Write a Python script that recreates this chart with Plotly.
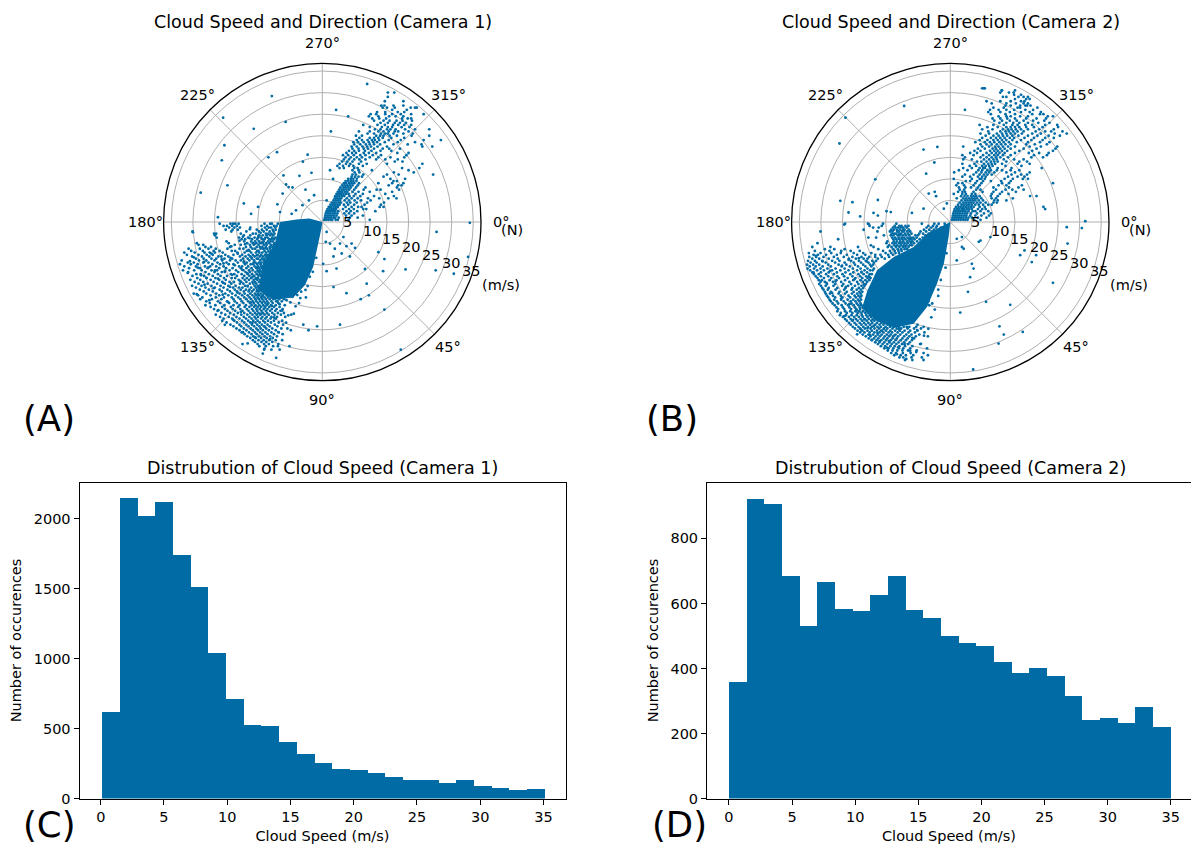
import numpy as np
import plotly.graph_objects as go

W, H = 1191, 846
PLOT_H = 838  # height left for paper coordinates once plotly has reserved its bottom margin
BLUE = "#006BA4"
FONT = "DejaVu Sans"

# ---------- histogram counts ----------
cam1_counts = [620, 2150, 2024, 2120, 1740, 1515, 1043, 716, 530, 525, 410, 320, 260, 215, 208,
               186, 158, 136, 136, 115, 134, 95, 76, 62, 74]
cam2_counts = [361, 924, 906, 685, 533, 669, 585, 578, 626, 685, 580, 558, 501, 480, 471,
               421, 389, 402, 377, 318, 242, 249, 233, 283, 222]
bin_width = 1.4
cam1_first_edge = 0.07
cam2_first_edge = 0.0
speed_ticks = [0, 5, 10, 15, 20, 25, 30, 35]

# ---------- solid (saturated) part of each cloud, outline: (west, south) m/s ----------
cam1_core = [(0, 0), (3, -0.8), (6, -0.6), (9.8, 0), (11, 5), (13.8, 9.7), (14.8, 15.8), (11.4, 18), (6.7, 17.5),
             (4, 14.6), (2.1, 10.4), (1.3, 6.6), (0.2, 1.5)]
cam2_core = [(0, 0), (5.4, 2.7), (8.5, 5.8), (13.1, 8.1), (17, 11.2), (19.2, 15.8), (20.5, 20), (17, 23), (13, 24.5),
             (8.5, 23.6), (5.4, 19.7), (3.1, 14.3), (1.5, 9.7), (0.4, 3.5)]

# ---------- stippled points: rows of south speed -> west speeds ----------
cam1_sw = {
0.4:[23.8,21.3,20.7,20.2,19.4,13.4,12.1,11.7,10.3],
0.9:[22.9,22.1,20.9,19.8,14.1,12.8,11.2,10.6],
1.3:[21.6,20.4,19.1,16.7,13.3,12.4,11.9,10.9],
1.8:[22.4,20.8,19.6,15.2,14,12.9,11.5,10.8],
2.2:[30.1,21.1,17.6,14.7,13.6,12.2,11.3],
2.7:[25.1,24.6,18.9,16.1,15.4,13.1,12.5,11.8,11.1],
3.1:[24.9,18.2,16.7,14.6,13.8,12.9,12.1,11.4],
3.6:[24.5,19.3,17.2,15.7,14.9,14.2,13.2,12.7,11.6,10.9],
4:[18.7,17.9,16.3,15.1,13.9,13.4,12.3,11.8,11.2],
4.5:[22.2,18.1,16.5,15.6,14.7,13.6,12.6,12,11.5],
4.9:[29.1,21.7,17.4,16.1,15.3,14.4,13.8,13,12.3,11.1],
5.3:[28.7,27.6,20.3,18.9,16.8,15.9,14.8,13.5,12.9,11.9,11.3],
5.8:[27.1,25.8,21.4,17.7,16.6,15.2,14.5,13.9,13.1,12.2,11.6],
6.2:[31,28.4,26.4,24.7,22,19.2,18.3,16.2,15.6,14.3,13.7,12.8,12.1],
6.7:[30.4,27.7,25.2,23.8,21,20.2,17.5,16.9,15.1,14.8,13.4,12.5,11.8],
7.1:[32,29.6,27.3,26.1,24.9,23.1,19.7,18,16.5,15.4,14.6,13.9,13,12.2],
7.6:[31.4,28.7,26.8,25.4,22.5,20.6,18.6,17.1,16.1,15,14.2,13.3,12.7],
8:[30.2,27.9,26.2,24.1,23.4,21.8,19.1,17.8,16.7,15.7,14.5,13.8,13.1],
8.5:[29.3,27.5,25.7,24.6,22.7,20.9,18.4,17.3,16.3,15.2,14.9,14,13.4],
8.9:[32.6,28.6,26.9,25,23.2,21.4,20.1,18.9,16.9,15.8,14.4,13.6],
9.4:[31.2,29.8,27.6,26.4,24.3,22.2,19.6,18.2,17.5,15.5,14.7,14.1,13.5],
9.8:[33,30.5,28.9,25.5,23.7,21.7,20.6,17.9,16.6,16,15.1,14.3],
10.3:[32,29.3,27.2,26,24.6,22.9,19.3,18.6,17.2,15.7,14.9,14.2,13.7],
10.7:[30.9,28.4,26.6,23.9,22.3,20.8,18.9,17.6,16.4,15.3,14.6,13.9],
11.2:[32.3,29.7,28,25.7,24.4,21.5,20,18.3,17,16.1,15,14.4],
11.6:[31.1,27.1,25,23.3,22.6,19.5,17.8,16.8,15.5,14.7,14.1],
12.1:[29.2,28.2,26.3,24.2,21.2,20.4,18.7,17.3,16.3,15.2,14.5],
12.5:[30.1,27.4,25.4,23.6,22.1,19.8,18.1,16.9,15.8,14.8,14.2],
13:[29,26.8,24.8,22.8,21,20.2,18.5,17.5,16.5,15.4,14.9],
13.4:[30.6,28.3,25.9,23.9,22.4,19.4,18,17,15.9,15.1,14.4],
13.9:[29.6,27.6,25.2,23.2,21.5,20.5,18.8,17.6,16.2,15.6,14.7],
14.3:[28.7,26.6,24.4,22.6,21.1,19.1,18.3,16.8,16,15.3],
14.8:[30.2,28,25.7,23.6,21.8,20.1,17.9,17.3,15.7,15,14.6],
15.2:[29.3,27.1,24.9,22.9,20.7,19.3,18.5,16.5,15.4,14.8,6.2],
15.7:[28.4,26.3,23.8,22,20.3,18.9,17.7,16.9,15.9,15.1,14.5,7.9],
16.1:[27.5,25.4,23.3,21.4,19.8,18.2,17.1,16.3,15.2,14.7,8.6,7.3],
16.6:[29.8,26.9,24.6,22.5,20.9,19.2,18,16.7,15.6,14.9,14.2,13.5,12.4],
17:[28.8,25.9,23.9,21.8,20.1,18.6,17.3,16.2,15.4,14.6,13.8,12.9,12,11.1,9.8,9],
17.5:[27.8,24.7,22.8,21,19.5,18.1,16.9,15.8,15,14.2,13.4,12.6,11.6,10.4,9.5,3.8],
17.9:[28.3,25.6,23.4,20.6,19,17.6,16.5,15.5,14.7,13.9,13.1,12.2,11.3,10,8.9],
18.4:[26.9,24.2,22.1,20.3,18.7,17.2,16.1,15.3,14.4,13.6,12.8,11.8,10.7,9.4],
18.8:[26.1,23.7,21.6,19.8,18.3,16.8,15.9,14.9,14,13.2,12.5,11.5,10.2,5.4],
19.3:[27.1,24.8,22.7,20.6,19.2,17.7,16.4,15.5,14.6,13.7,12.9,11.9,10.8,8.7],
19.7:[25.9,23.2,21.2,19.5,18,16.9,15.8,15,14.2,13.3,12.3,11.2,9.9],
20.2:[25.1,22.6,20.8,19,17.5,16.3,15.3,14.5,13.6,12.7,11.7,10.6,9.2],
20.6:[24.3,22,20.2,18.5,17.1,16,15.1,14.1,13.1,12.1,10.9,9.7],
21.1:[23.4,21.4,19.6,18.1,16.7,15.6,14.8,13.8,12.8,11.6,10.3,8.9],
21.5:[24.7,22.5,20.5,18.8,17.4,16.2,15.2,14.4,13.4,12.4,11.1,9.6,7.2],
22:[23.7,21.7,19.9,18.2,16.9,15.7,14.9,13.9,12.9,11.8,10.5,8.6],
22.4:[22.9,20.9,19.2,17.7,16.4,15.4,14.2,13.2,12,10.8],
22.9:[23.2,20.4,18.6,17.2,16,15,13.7,12.6,11.2,9.3],
23.3:[22.2,19.8,18.1,16.7,15.5,14.5,13.3,11.9,10.1],
23.8:[21.3,19.2,17.6,16.3,15.1,14,12.7,11,9.1,4.4],
24.2:[20.6,18.8,17.1,15.8,14.6,13.5,12.2,10.4],
24.7:[19.9,18.2,16.6,15.3,14.3,13,11.6,9.5,8.1],
25.1:[19.2,17.6,16.1,14.9,13.8,12.4,10.8,7.3,3.2],
25.6:[18.7,17,15.6,14.4,13.2,11.8,10.1],
26:[18,16.4,15.2,13.9,12.7,11.2,9.2],
26.5:[17.4,16,14.7,13.4,12.1,10.5],
26.9:[16.7,15.4,14.2,12.9,11.5],
27.4:[16.1,14.8,13.6,12.3,10.8,9.3],
27.8:[15.6,14.1,13,11.6],
28.3:[18.5,15,13.5,12.4,10.2],
28.8:[14.6,13.1,11.4,10.3,7.6],
29.6:[13.5,11.8,9.9],
30.5:[13.8],
31.5:[10.7],
}
cam1_ne = {
0.5:[0.4,0.9,1.4,1.9,2.3,3.1,3.6,6.1,11],
1:[0.6,1,1.5,2,2.6,3,3.8,6.4,8.2],
1.5:[0.7,1.2,1.7,2.2,2.7,3.3,5.5,6.8,9.4],
2:[0.8,1.3,1.8,2.4,2.9,3.5,5.1,6.2,7.4],
2.5:[1,1.5,2,2.5,3,3.7,5.6,6.6,8.1,12.3],
3:[1.2,1.7,2.2,2.7,3.2,4.8,6.2,7.3,9.5,10.2],
3.5:[1.5,2,2.6,3.1,3.6,5.4,6.8,8.3,9.1,13.3,14.2],
4:[1.9,2.4,2.9,3.5,4,5,6,7.4,9.8,13.6],
4.5:[2.2,2.7,3.2,3.8,4.3,5.7,6.5,8,10.4,14.3],
5:[1,2.6,3.1,3.6,4.1,5.2,6.2,7.5,9,11.2],
5.5:[2.9,3.4,3.9,4.4,5.7,6.8,8.2,10.6,13.2,15.3,17.2],
6:[3,3.5,4,4.6,5.1,6.3,7.3,8.8,12,16.6],
6.5:[3.3,3.8,4.3,4.9,5.5,6.1,7.7,9.4,14.6],
7:[3.6,4.1,4.6,5.2,5.8,7,8.4,11,16.2],
7.5:[3.9,4.5,5,5.6,6.2,7.4,9.6,12.6,13.5,17.8],
8:[4.2,4.9,5.4,6,6.6,7.8,10,17.3],
8.5:[4.6,5.2,5.8,6.4,7,8.2,15.4,17.6,18.4],
9:[5,5.5,6.2,6.8,7.4,8.5,13,16.2,18.8],
9.5:[5.4,6,6.6,7.2,7.9,16.5,17.3],
10:[2.5,6,6.6,7.2,8,15.8,19.2],
10.5:[6.8,7.6,8.4,9.2,14.2],
11:[7,7.8,9.5,15,17.7,25.7],
11.5:[7.5,8.6,16.6,21.2],
12:[1.8,7,8.4,11.5,20],
12.5:[4,5,7.4,8.2,18.5,22.5],
13:[3.5,4.8,6.2,7.2,9.4],
13.5:[4,5.5,6.5,8.5,10.3,15,23.2],
14:[4.6,5.8,7,9,16.8,18.6],
14.5:[5,6.2,7.4,8.6,10,12.5,14.6,17.5],
15:[5.4,6.6,8,9.2,11,13,15.8,19],
15.5:[4.8,6,7.3,8.8,10,11.7,13.6,19.5],
16:[5.6,6.9,7.8,9.6,10.8,12.5,17.4,20],
16.5:[6.2,7.4,8.5,9.9,11.4,13.5,16],
17:[7,8.4,9.6,10.6,12,14,15.5,18],
17.5:[6.8,8,9.3,10.4,11.3,12.8,15,23.2,25.5],
18:[7.4,8.8,10.1,11,12,13.4,16.5,19.8,23],
18.5:[7.2,8.3,9.6,10.8,11.8,12.7,14.5,17.5,21.5],
19:[8,9.2,10.5,11.5,12.2,13.2,15.4,18.2,23.5,27.5],
19.5:[8.6,11,12,13,14,16,19],
20:[7.8,9.2,12.5,13.4,14.2,15.6,17.3,20.7,24.8],
20.5:[10.5,12,13.6,14.6,15.2,16.5,18.8,21],
21:[2,8.5,11,13,14.2,15.4,16.8,17.6,20],
21.5:[12.2,13.5,15,15.8,17,19.2,21.5,24.8],
22:[11,13.8,15.2,16.2,18.4,20.2],
22.5:[9.5,12.8,14.5,16.4,17.6,19,20.6],
23:[13.5,15.2,16.8,18,19.4],
23.5:[12,14.2,15.6,17.2,18.6,20.8],
24:[11.6,13.2,14.8,18.5,19.8,20.6],
24.5:[6,10.8,13,15.5,17,18.8],
25:[11.2,12.5,14.6,16.2,18.2,20.6,23.5],
25.5:[12.7,14.6,17.5,19],
26:[3.2,16.2,19.6],
26.5:[14,15,16.8,20.5,21.5,21.9],
27:[13.7,14.4,16.5,18.8],
28:[14.5,18.8],
29:[15.2],
30:[15.2,16.7],
32:[10.4],
}
# scattered points elsewhere: (east, south) m/s
cam1_other = [(-11.7,-29.2),(-8.5,-23.2),(-15.9,-21.6),(-23,-24.2),(-22.7,-17.8),(-23.3,-14.3),(-28.2,-6.8),(-22,-8.5),
(-24.2,-1.1),(-10.5,-16.2),(-12.5,-15),(-3.4,-15.6),(-4.5,-14),(-2.5,-11.4),(-9,-10.8),(-5.3,-10.7),(-7.8,-8.1),(-8.4,-8.7),
(-6.9,-8),(-3.9,-7.5),(-9.2,-6.6),(-1.9,-6.2),(-18.2,-4.3),(-14.9,-3.5),(-16.5,-1.9),(-10.4,-4.1),(-9.8,-2.3),(-4.6,-3.9),
(-7.1,-1.9),(-3.1,-5),(-6.1,-2.7),(-30,2.4),
(34.2,0.2),(26.5,2.3),(33.8,8.1),(26.3,11.2),(30.5,12),(19.3,11),(14.1,11.4),(14.4,8.6),(13,7),(7.6,6),(5.6,5.6),(4.1,5),
(2.9,6.2),(4.5,7.3),(2.6,8),(0.2,9.7),(1,11.4),(3.3,10.8),(6.4,8),(9.9,10.9),(2.6,15.1),(5.6,16.5),(10.3,14.3),(10.8,17),
(8.9,17.9),(14.4,20.3),(4.1,23.8),(-1.2,24.2),(18.2,29.6),(0.8,4.6),(1.8,5),(4.9,3.5),(6.8,5),(1,2.3),
# extra dots inside the south-west cloud, between the rows
(-14.3,2.5),(-16.8,1.7),(-18.4,3.4),(-15.7,5.1),(-13.2,6.1),(-17.1,6.45),(-19.6,7.35),(-21.1,5.65),(-23.3,8.65),(-25.7,7.35),
(-27.4,9.25),(-29.8,8.2),(-31.2,11.8),(-28.1,12.35),(-26.4,10.55),(-24.2,13.15),(-22.6,11.35),(-20.3,10.05),(-18.2,9.15),
(-16.4,8.25),(-15.1,10.55),(-17.4,11.85),(-19.1,13.65),(-21.4,15.05),(-23.1,16.85),(-25.2,15.35),(-27.3,14.55),(-29.1,16.75),
(-26.2,18.15),(-24.1,20.45),(-21.8,18.6),(-19.7,16.35),(-17.3,14.95),(-15.4,13.15),(-14.9,16.85),(-16.6,18.65),(-18.9,20.85),
(-20.7,22.65),(-22.6,23.85),(-18.4,25.55),(-16.2,23.35),(-14.2,21.25),(-12.6,18.95),(-10.4,18.35),(-8.7,17.45),(-7.4,18.65),
(-9.3,20.55),(-11.2,22.15),(-13.3,24.35),(-15.6,26.75),(-17.3,28.15),(-13.4,29.35),(-12.1,27.15),(-10.2,25.55),(-8.4,23.35),
(-6.6,21.25),(-5.1,17.65),(-3.9,15.75),(-6.2,19.55),(-7.9,21.65),(-13.9,17.25),(-13.3,19.85),(-11.7,19.45),(-12.3,16.9),
(-10.9,17.75),(-9.9,19.05),(-8.3,18.15),(-6.9,17.35),(-5.8,16.95),(-4.9,16.15),(-3.4,14.85),(-2.9,12.7),(-2.2,11.55),(-1.4,8.3),
(-14.8,11.45),(-15.9,9.35),(-17.9,5.15),(-19.2,4.35),(-16.9,3.75),(-14.8,3.25),(-13.9,4.75),(-15.2,7.75),(-16.2,12.75),
(-18.6,11.05),(-20.9,12.25),(-23,14.1),(-24.9,11.25),(-26.9,12.95),(-22.9,9.6),(-21.3,8.3),(-28.9,10.6),(-30.7,9.1)]

cam2_sw = {
0.4:[24.4,19.1,15.6,12.5,6.6,3.7,2.7,1.3],
0.9:[18.7,15.9,12.9,11.8,11.3,10.4,9.7,5.1,4,3.1],
1.3:[17.9,16.6,13.3,12.7,12.1,11.5,10.9,10.1,5.5,4.4,3.3,2.2],
1.8:[20.1,13.7,13.1,12.4,11.7,11,10.6,9.6,6.1,4.9,3.8,2.6],
2.2:[16.9,14,13.4,12.3,12,11.2,10.8,10,9.3,6.9,5.6,4.3],
2.7:[13.6,13,12.6,11.9,11.4,10.5,9.8,9,7.2,6.3,5],
3.1:[15.4,13.8,13.2,12.2,11.7,11,10.3,9.5,8.1,7.5,5.8],
3.6:[19,17.2,13.5,12.8,12,11.3,10.7,9.9,9.2,8.6,7.8,6.4],
4:[26,13.2,12.5,11.8,11.1,10.4,9.6,9,8.3,7.1],
4.5:[14.6,13.1,12.4,11.6,10.9,10,9.4,8.8,7.7],
4.9:[30.8,14.8,13.4,12.7,11.9,11.3,10.6,9.9,9.1,8.4],
5.4:[18.4,14.2,13,12.3,11.5,10.8,10.2,9.4,8.9],
5.8:[32,27.8,21.4,17.8,14.5,13.6,12.6,11.8,11,10.4,9.7],
6.3:[29.1,26.9,24.5,16.7,13.2,12.2,11.4,10.6,10],
6.7:[31.4,28,25.3,23.1,21,15.6,14,12.9,12,11.3],
7.2:[32.8,30.1,27.6,25.4,22.4,20.2,18.3,15,13.7,12.7,11.9],
7.6:[31.7,30.7,28.8,26.3,24,21.6,19.7,17.4,16.2,14.4,13.3],
8.1:[32.7,31.1,29.4,27,24.7,22.7,20.6,18.8,17.4,15.9,14.2],
8.5:[32,30.4,28.2,26.1,23.5,21.9,20.1,19.2,16.8,15.2],
9:[33,31.4,29.7,27.4,25.7,23,21.2,19.6,18.1,17.2],
9.4:[32.4,31,28.9,26.7,24.5,22.4,20.7,19,17.7],
9.9:[33.2,31.8,30.4,28.3,25.9,24.1,22.1,20.2,18.6,17.9],
10.3:[32.6,31.2,29.6,27.7,25.2,23.3,21.4,19.7,18.3],
10.8:[33.1,31.6,30.1,28.5,26.6,24.5,22.6,20.8,19.2,17.7],
11.2:[32.5,30.9,29.3,27.4,25.5,23.6,21.6,19.9,18.6,18],
11.7:[32,31.7,30,28.2,26.3,24.3,22.5,20.6,19.3],
12.1:[31.6,30.5,28.8,27,25,23.2,21.3,20.1,18.7,18.2],
12.6:[31.2,30,28.3,26.2,24.6,22.7,20.9,19.5,18.9],
13:[30.8,29.3,27.6,25.8,23.8,22,20.4,19.2,18.5],
13.5:[30.5,29.8,28,26.4,24.4,22.5,20.8,19.7,18.8],
13.9:[30.1,29.1,27.2,25.3,23.4,21.6,20.3,19.3],
14.4:[30.4,28.6,26.7,24.8,23,21.3,20,19.6],
14.8:[30,28.9,27.1,25.1,23.7,22.1,20.6,19.9],
15.3:[29.7,28.2,26.2,24.3,22.7,21.2,20.2],
15.7:[29.4,28.4,26.6,24.6,22.9,21.7,20.7,2.8],
16.2:[29.1,27.7,25.7,24,22.4,21.1,20.4],
16.6:[28.9,27.9,25.9,24.4,22.8,21.6,20.8],
17.1:[28.6,27.2,25.4,23.6,22.2,21.3,20.6],
17.5:[28.3,26.7,25,23.2,21.9,20.9],
18:[28,26.9,25.3,23.8,22.5,21.4,20.7],
18.4:[27.7,26.3,24.7,23.1,22,21.1,5.1],
18.9:[27.3,26,24.3,22.9,21.7,20.8,4.2],
19.3:[26.8,25.2,23.7,22.4,21.3,20.6,4.9],
19.8:[26.4,24.9,23.4,22.1,21,20.3],
20.2:[26,24.6,23,21.8,20.9],
20.7:[26.2,24.4,23.2,22,21.1,20.2,19.4],
21.1:[25.4,24,22.7,21.5,20.6,19.7,19],
21.6:[25.6,24.2,22.9,21.7,20.5,19.5,18.7],
22:[24.9,23.5,22.3,21.2,20.3,19.2,18.4,17.6],
22.5:[24.4,23.1,21.9,20.8,19.8,18.9,18,17.3],
22.9:[24,22.7,21.5,20.4,19.4,18.3,17.6,16.6,15.4],
23.4:[23.5,22.2,21,20,19,18.1,17,16,14.9,14.1],
23.8:[23.1,21.8,20.6,19.6,18.6,17.4,16.4,15.5,14.5,13.6,7.6],
24.3:[22.6,21.3,20.2,19.1,18.2,16.9,16.1,15,14,13,11.9,10.8,9.5,7.9,6.2],
24.7:[22.1,20.9,19.8,18.5,17.6,16.5,15.4,14.6,13.4,12.4,11.4,9.9,8.4,6.8],
25.2:[21.5,20.4,19.2,18.2,17,16,14.9,13.9,12.8,11.7,10.6,9.3,7.6],
25.6:[20.9,19.9,18.7,17.6,16.4,15.5,14.3,13.5,12.2,11.1,9.7,8.2,6],
26.1:[20.3,19,17.9,16.8,15.9,14.7,13.8,12.7,11.6,10.2,9,7.2],
26.5:[19.6,18.5,17.3,16.3,15.2,14.2,13.2,12.1,10.7,9.5,8,5.2],
27:[18.9,17.7,16.7,15.5,14.6,13.4,12.4,11.1,9.9,8.4],
27.4:[18.2,17.1,16,14.9,13.8,12.7,11.5,10.3,8.9],
27.9:[17.4,16.4,15.3,14.1,13.1,12,10.7,9.4],
28.3:[16.8,15.7,14.6,13.6,12.5,11.2,9.8,7],
28.8:[16.1,15.1,13.9,12.9,11.8,10.5,8.8],
29.3:[15.3,14.3,13.2,11.9,10.9,9.3,5.4],
29.8:[14.5,13.4,12.3,11.1,9.8,7.8],
30.4:[13.7,12.6,11,9.2,6.2],
30.9:[13,11.5,10.3,8.6,5.2],
31.4:[11.8,10.9,9,6.6],
32:[10.5,8.8,6.2],
}
cam2_ne = {
0.5:[0.4,0.9,1.4,1.9,2.4,3,3.5,4,5.5,7],
1:[0.5,1,1.5,2,2.5,3,3.6,4.2,5,6.4,8.4],
1.5:[0.6,1.1,1.6,2.1,2.6,3.2,3.7,4.6,5.8,7.2,9],
2:[0.7,1.2,1.7,2.2,2.8,3.4,3.9,4.8,6.2,7.8,9.4],
2.5:[0.9,1.4,1.9,2.4,3,3.5,4.2,5.2,5.8,7,8.8],
3:[1,1.6,2.1,2.7,3.2,3.8,4.4,5,6.4,7.4,8.2,22],
3.5:[1.3,1.9,2.4,3,3.6,4.2,4.8,5.4,6.8,8,21.6],
4:[1.8,2.6,3.2,3.8,4.4,5,5.8,6.6,7.6,8.8,9.6],
4.5:[2.2,3,3.6,4.2,4.8,5.4,6.2,7,8.2,10,10.8],
5:[2.6,3.4,4,4.6,5.2,5.8,6.6,7.6,10.2,11,13],
5.5:[1.5,3,3.7,4.4,5,5.6,6.2,7.2,9.6,10.6,14.5],
6:[2.5,3.3,4,4.8,5.4,6,6.8,9.4,11,18.5,20],
6.5:[0.8,2.8,3.6,5,5.8,9.6,11.5,13.5],
7:[1.8,2.8,3.4,5.4,7.5,10,12,15.2],
7.5:[2.2,3.2,6,7,10.6,12.8,14.4,17],
8:[2,3.5,4.8,6.4,10,13.6,15.8],
8.5:[1.4,3.2,5.4,6.8,11.2,13,16.6],
9:[1.8,2.8,5.8,7.2,12,13.6,23.8],
9.5:[3.6,4.6,6.2,7.6,9.4,11.8,14],
10:[0.8,5,6.8,7.2,8,12.6,14.5,16.8,18],
10.5:[2.8,4.6,6.4,7.4,8.2,13.4,15.6,17.2],
11:[3.4,5.4,6.8,7.8,8.6,9.6,14.2,16.4,17.8],
11.5:[0.9,6,7.2,8.2,9,10.2,13,15,18.4],
12:[2,4,6.5,7.4,8.6,9.4,10.8,12,14,16],
12.5:[3,5,6.8,7.6,8,9.2,11,14.2,21.2],
13:[4.5,6,7.4,8.2,9,9.8,12.8,16.5],
13.5:[2.8,5.6,7.8,8.8,9.6,10.4,12,15.6,18.4],
14:[6.2,7.2,8.4,9.4,10.2,11,13,16,17.8],
14.5:[3,5,7.8,9,10,10.8,12.4,14.8,17],
15:[3.4,7,8.4,9.6,10.6,11.6,13.4,18.8,21.5],
15.5:[2.8,5.4,7.6,9,10.2,11,12.2,14,19.4,22.4],
16:[4.6,6.2,8.4,9.6,10.6,11.4,12.6,15,18.2,20.6,22.8],
16.5:[5.6,7,9.2,10.2,11,12,13.2,16,19,23.8],
17:[6.4,8,9.8,10.6,11.6,12.6,14,17,20,24.4],
17.5:[3,7.4,9,10.4,11.2,12.2,13.4,15,18.4,21,24.8],
18:[7,8.4,9.6,10.8,11.8,12.8,14,17.6,19.6,22.4],
18.5:[5.8,8,9.2,10.2,11.4,12.4,13.6,15.4,18,20.8,23],
19:[6.8,8.6,10,11,12,13,14.4,16.4,18.8,21.4],
19.5:[7.4,9.4,10.6,11.6,12.6,13.8,14.8,17.2,19.4,22,24],
20:[8.2,10,11.2,12.2,13.2,14.4,15.8,18,20.2,22.8,25.4],
20.5:[7,9,10.8,12,13,14,15,16.6,19,21,24.2,27],
21:[8.8,11.6,12.8,13.6,14.6,15.6,17,19.8,22,23.4,26],
21.5:[7.4,9.8,12.2,13.4,14.2,15.2,16.4,18,20.6,24],
22:[8.6,11,13,14,15,16,17.6,19.4,21.4,25],
22.5:[6.8,10,12.4,14.4,15.6,17.4,19,22,24.8],
23:[11.4,13,14.6,16,18,20.4,23],
23.5:[10.2,12,13.8,15.4,17,19.2,21.8],
24:[9.8,11.6,13.2,15,17.6,20,22.2],
24.5:[11.2,13,14,16.2,18,22.6,23.8],
25:[9.4,12.8,15,19,20.8,21.6],
25.5:[8.8,11.6,13.8,16.4,18.4,21],
26:[3.4,9.2,11.2,13,14.8,17.4,19.2],
26.5:[10,12.4,15.6,16.2,20.2],
27:[12.8,14,16.2,17.4,17.8,18.6],
27.5:[9.6,13,15.2,17,18],
28:[8.4,11.6,14,16.4,17.2],
28.5:[15,17.6,18.4],
29:[12.2,13,15.8,17,18],
29.5:[14.8,16.4],
30:[11.6,13.6,14.7],
30.5:[11.9,12,15],
31:[7.4,7.8,8],
}
cam2_other = [(-10.7,-26.9),(-24.3,-24.2),(-25.7,-18.2),(-6.2,-16.8),(-3,-17.4),(-5.6,-11.2),(-3.7,-13.8),(-17.4,-9.9),
(-25.5,-4.9),(-22.7,-4.6),(-16.8,-5.1),(-23.6,-2.2),(-20.9,-1.3),(-8.9,-2.1),(-6.2,-3.1),(-17.8,-2.1),(-16.8,-1.5),
(-14.8,-2.5),(-13.8,-2.3),(-3.6,-7),(-3.3,-6),(-5,-6.6),(-1.5,-3.1),(-0.8,-4.3),(-24.6,0.6),(-30.1,2.2),(-18.9,0.5),
(31.3,-0.2),(27,1.2),(30.5,1.4),(27.2,5),(23.8,14.1),(17.2,6.6),(16.2,7.7),(19.9,7.7),(18.9,9.3),(13.9,19.2),(8.3,18.5),
(4.1,16.2),(2.3,21),(11.4,24.2),(12.4,26.1),(16.8,25.5),(11.2,28.2),(5.3,34.2),(5.4,10.8),(5,9.7),(4.6,12.8),(7,4.3),
(6.6,4.6),(9.3,3.5),(2.7,3.5),(1.5,3.9),(3.1,6.2),(1.5,8.9),(2.7,5.8),
# extra dots inside the south-west cloud, between the rows
(-31.2,7.85),(-29.6,9.15),(-27.9,11.35),(-25.1,10.15),(-23.6,8.75),(-21.2,8.4),(-19.4,9.15),(-18.7,12.85),(-20.6,11.55),
(-22.2,13.25),(-24.2,15.05),(-26.6,13.75),(-28.7,14.15),(-27.4,16.45),(-25.3,17.75),(-23.4,19.05),(-21.7,20.45),(-24.6,21.85),
(-22.6,22.75),(-20.7,24.95),(-18.6,26.25),(-16.4,27.65),(-14.7,29.15),(-12.4,30.65),(-10.2,31.75),(-7.9,30.15),(-6.8,28.25),
(-8.8,26.85),(-10.6,28.35),(-13,26.35),(-15.4,24.85),(-17.7,24.05),(-19.9,22.55),(-5.1,24.75),(-4.4,22.1),(-3.6,20.3),
(-2.8,17.15),(-2.2,13.45),(-1.1,10.6),(-0.9,7.25),(-12.1,29.05),(-14.2,27.65),(-16.9,25.75),(-9.3,29.85),(-11.9,24.85),
(-7.7,25.05),(-6.1,26.35),(-10.1,24.35),(-15.9,25.25),(-18.2,27.35),(-21.6,26.05),(-19.2,24.6)]

angle_ticks = [0, 45, 90, 135, 180, 225, 270, 315]
angle_label_px = [(501, 222), (448, 347), (322, 400), (197, 347), (145, 222), (197, 95), (322, 43), (448, 95)]
ring_ticks = [5, 10, 15, 20, 25, 30, 35]
ring_label_px = [(347, 222), (372, 231), (391, 239), (411, 247), (431, 255), (451, 263), (471, 271)]
R_MAX = 36.8


def polar_of(east, south):
    east, south = np.asarray(east, float), np.asarray(south, float)
    return np.hypot(east, south), np.degrees(np.arctan2(south, east)) % 360


def cloud(sw, ne, other):
    e, s = [], []
    for row, vals in sw.items():
        e += [-v for v in vals]
        s += [row] * len(vals)
    for row, vals in ne.items():
        e += list(vals)
        s += [-row] * len(vals)
    e += [p[0] for p in other]
    s += [p[1] for p in other]
    return polar_of(e, s)


def px(x):
    return x / W


def py(y):
    return 1 - y / PLOT_H


fig = go.Figure()
panels = [("polar", cam1_core, cam1_sw, cam1_ne, cam1_other), ("polar2", cam2_core, cam2_sw, cam2_ne, cam2_other)]
for sub, core, sw, ne, other in panels:
    core_r, core_t = polar_of([-p[0] for p in core] + [-core[0][0]], [p[1] for p in core] + [core[0][1]])
    fig.add_trace(go.Scatterpolar(r=core_r, theta=core_t, subplot=sub, mode="lines", fill="toself",
                                  fillcolor=BLUE, line=dict(width=0, color=BLUE), showlegend=False, hoverinfo="skip"))
    r, t = cloud(sw, ne, other)
    fig.add_trace(go.Scatterpolar(r=r, theta=t, subplot=sub, mode="markers",
                                  marker=dict(size=2.8, color=BLUE, line=dict(width=0)), showlegend=False))

for counts, first, xa, ya in [(cam1_counts, cam1_first_edge, "x", "y"), (cam2_counts, cam2_first_edge, "x2", "y2")]:
    centers = [first + bin_width * (i + 0.5) for i in range(len(counts))]
    fig.add_trace(go.Bar(x=centers, y=counts, width=bin_width, xaxis=xa, yaxis=ya, showlegend=False,
                         marker=dict(color=BLUE, line=dict(width=0))))

tick_font = dict(family=FONT, size=14.5, color="black")


def polar_layout(cx):
    R = 158.7
    return dict(
        domain=dict(x=[px(cx - R), px(cx + R)], y=[py(222 + R), py(222 - R)]),
        bgcolor="white",
        angularaxis=dict(direction="clockwise", rotation=0, tickmode="array", tickvals=angle_ticks,
                         showticklabels=False, ticks="",
                         showline=True, linecolor="black", linewidth=1.3,
                         showgrid=True, gridcolor="#b0b0b0", gridwidth=1.3, layer="above traces"),
        radialaxis=dict(range=[0, R_MAX], tickmode="array", tickvals=ring_ticks, showticklabels=False, ticks="",
                        showline=False, showgrid=True, gridcolor="#b0b0b0", gridwidth=1.3, layer="above traces"),
    )


def hist_axes(x0, x1, xrange, yrange, yticks, anchor_x, anchor_y, mirror_y):
    common = dict(showline=True, linecolor="black", linewidth=1, ticks="outside", ticklen=5, tickwidth=1,
                  tickcolor="black", tickfont=tick_font, showgrid=False, zeroline=False)
    xaxis = dict(domain=[px(x0), px(x1)], range=xrange, tickmode="array", tickvals=speed_ticks, anchor=anchor_y,
                 mirror=True, title=dict(text="Cloud Speed (m/s)", font=tick_font, standoff=6), **common)
    yaxis = dict(domain=[py(798.5), py(482.5)], range=yrange, tickmode="array", tickvals=yticks, anchor=anchor_x,
                 mirror=mirror_y, title=dict(text="Number of occurences", font=tick_font, standoff=8), **common)
    return xaxis, yaxis


x1a, y1a = hist_axes(79.5, 565.5, [-1.68, 36.75], [0, 2258], [0, 500, 1000, 1500, 2000], "x", "y", True)
x2a, y2a = hist_axes(707, 1191, [-1.74, 36.6], [0, 972], [0, 200, 400, 600, 800], "x2", "y2", False)

annotations = []


def note(x, y, text, size, anchor="center"):
    annotations.append(dict(x=px(x), y=py(y), xref="paper", yref="paper", text=text, showarrow=False,
                            xanchor=anchor, yanchor="middle", font=dict(family=FONT, size=size, color="black")))


note(322.5, 22, "Cloud Speed and Direction (Camera 1)", 17.5)
note(950.5, 22, "Cloud Speed and Direction (Camera 2)", 17.5)
note(322.5, 468, "Distrubution of Cloud Speed (Camera 1)", 17.5)
note(950, 468, "Distrubution of Cloud Speed (Camera 2)", 17.5)
for label, x, y in [("(A)", 49, 418), ("(B)", 672, 418), ("(C)", 49, 824), ("(D)", 679, 824)]:
    note(x, y, label, 35.5)
for offset in [0, 628]:
    note(511.5 + offset, 230, "(N)", 14.5)
    note(501 + offset, 285, "(m/s)", 14.5)
    for value, (x, y) in zip(ring_ticks, ring_label_px):
        note(x + offset, y, str(value), 14.5)
    for value, (x, y) in zip(angle_ticks, angle_label_px):
        note(x + offset, y, f"{value}°", 14.5)

fig.update_layout(
    width=W, height=H, autosize=False, margin=dict(l=0, r=0, t=0, b=0),
    paper_bgcolor="white", plot_bgcolor="white", bargap=0, showlegend=False,
    font=dict(family=FONT, size=14.5, color="black"),
    polar=polar_layout(322.3), polar2=polar_layout(950.3),
    xaxis=x1a, yaxis=y1a, xaxis2=x2a, yaxis2=y2a,
    annotations=annotations,
)
fig.write_html("out.html", config={"displayModeBar": False},
               post_script="document.body.style.margin='0';document.body.style.overflow='hidden';")
